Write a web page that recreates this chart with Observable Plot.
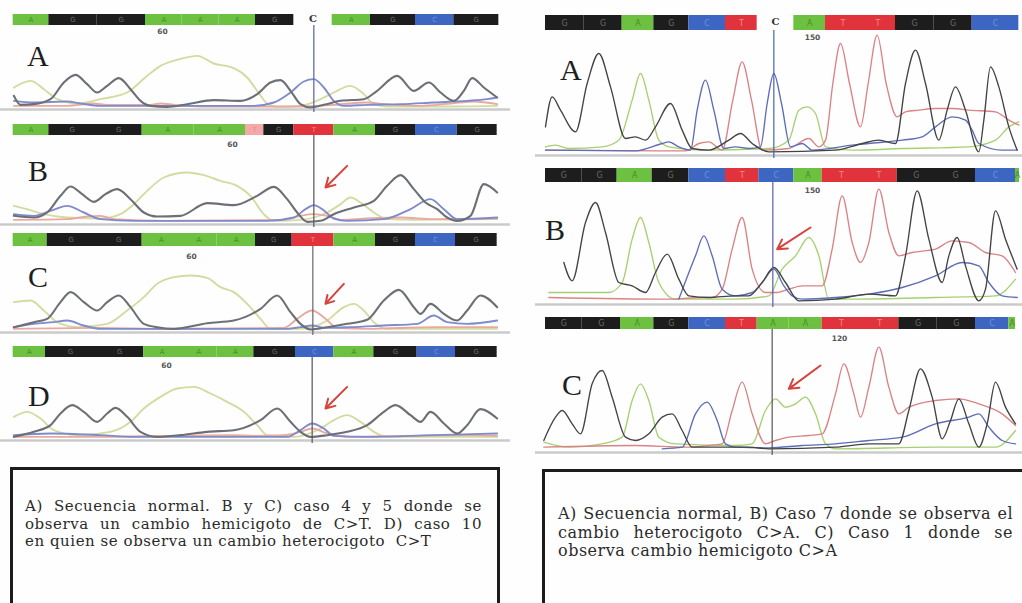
<!DOCTYPE html>
<html><head><meta charset="utf-8">
<script src="https://cdn.jsdelivr.net/npm/d3@7"></script>
<script src="https://cdn.jsdelivr.net/npm/@observablehq/plot@0.6"></script>
<style>
html,body{margin:0;padding:0;background:#fff;}
#root{position:relative;width:1022px;height:603px;overflow:hidden;background:#fefefe;}
.abs{position:absolute;}
.letter{position:absolute;font-family:"Liberation Serif",serif;font-size:30px;line-height:1;color:#1e1e1e;}
.box{position:absolute;border:3px solid #1c1c1c;box-sizing:border-box;}
.cap{position:absolute;font-family:"DejaVu Serif",serif;line-height:1;color:#2b2b2b;white-space:pre;}
.just{text-align:justify;text-align-last:justify;}
</style></head><body><div id="root"></div>
<script>
// ================= DATA =================
// Base calls and call boundaries (scan units) for every chromatogram
const leftA_calls = ["A","G","G","A","A","A","G","C","A","G","C","G"];
const leftA_edges = [38,145,290,435,545,655,765,880,995,1110,1245,1360,1495];
const leftB_calls = ["A","G","G","A","A","t","G","T","A","G","C","G"];
const leftB_edges = [38,145,285,425,580,735,790,880,1000,1125,1245,1370,1490];
const leftC_calls = ["A","G","G","A","A","A","G","T","A","G","C","G"];
const leftC_edges = [38,140,285,425,540,650,765,875,1000,1125,1245,1365,1490];
const leftD_calls = ["A","G","G","A","A","A","G","C","A","G","C","G"];
const leftD_edges = [38,135,285,430,540,650,760,885,1000,1120,1250,1365,1490];
const rightA_calls = ["G","G","A","G","C","T","C","A","T","T","G","G","C"];
const rightA_edges = [30,145,260,355,460,570,665,775,870,975,1080,1195,1310,1450];
const rightB_calls = ["G","G","A","G","C","T","C","A","T","T","G","G","C","A"];
const rightB_edges = [30,140,245,350,460,570,670,775,860,975,1085,1200,1320,1440,1452];
const rightC_calls = ["G","G","A","G","C","T","A","A","T","T","G","G","C","A"];
const rightC_edges = [30,140,255,355,460,570,665,760,860,975,1090,1205,1320,1420,1440];
// index of the highlighted (uncoloured) call in the reference panels
const leftA_selected = 7;
const rightA_selected = 6;

// Position numbers above the traces [scan, label]
const posLabels = {
  leftA: [486, "60"], leftB: [696, "60"], leftC: [573, "60"], leftD: [498, "60"],
  rightA: [831, "150"], rightB: [831, "150"], rightC: [912, "120"]
};
// Cursor (variant position) in scan units
const cursorScan = {leftA: 940, leftB: 940, leftC: 937, leftD: 935, rightA: 715, rightB: 712, rightC: 710};

// Traces: [scan, signal]
const leftA_G = [[40,35],[60,8],[100,10],[150,25],[190,75],[225,98],[260,70],[290,45],[320,65],[355,88],[390,55],[420,20],[450,5],[500,2],[560,10],[640,22],[720,20],[770,40],[810,75],[840,82],[870,50],[900,10],[930,0],[970,8],[1020,20],[1090,25],[1130,50],[1190,95],[1240,50],[1285,75],[1320,45],[1360,20],[1390,50],[1415,88],[1450,60],[1490,30]];
const leftA_A = [[40,60],[90,80],[130,55],[170,25],[230,12],[300,25],[380,45],[440,95],[480,125],[530,143],[590,155],[640,132],[700,118],[740,90],[770,50],[800,12],[830,2],[900,5],[960,25],[1000,45],[1050,65],[1090,40],[1120,10],[1160,3],[1300,3],[1490,5]];
const leftA_C = [[40,20],[100,15],[200,18],[240,12],[300,5],[760,5],[820,15],[870,45],[910,78],[940,85],[970,60],[1000,20],[1030,5],[1100,8],[1200,10],[1300,15],[1400,20],[1460,25],[1490,30]];
const leftA_T = [[40,5],[200,5],[280,12],[320,8],[450,8],[480,12],[520,8],[600,3],[900,3],[1000,8],[1100,15],[1150,10],[1250,5],[1350,12],[1420,18],[1490,10]];

const leftB_G = [[40,20],[100,15],[140,30],[180,80],[210,108],[245,85],[280,62],[315,85],[350,100],[390,70],[430,30],[470,18],[540,20],[620,58],[700,52],[770,80],[820,107],[860,70],[890,30],[920,2],[960,5],[1000,25],[1060,45],[1120,65],[1160,110],[1200,142],[1240,100],[1275,60],[1310,40],[1340,15],[1370,5],[1410,20],[1450,115],[1490,90]];
const leftB_A = [[40,50],[80,40],[130,25],[200,15],[300,12],[360,25],[400,55],[440,95],[490,135],[560,150],[610,142],[660,125],[710,110],[750,80],[790,25],[820,5],[900,8],[980,30],[1020,55],[1050,75],[1080,60],[1120,30],[1160,10],[1250,8],[1490,10]];
const leftB_C = [[40,25],[100,20],[150,35],[200,50],[250,30],[300,10],[400,5],[800,5],[880,15],[915,40],[940,52],[965,40],[1000,12],[1040,5],[1150,10],[1230,40],[1290,70],[1330,40],[1370,10],[1490,15]];
const leftB_T = [[40,8],[200,10],[260,18],[300,20],[340,10],[500,5],[850,8],[900,20],[940,25],[980,20],[1020,8],[1100,12],[1200,15],[1300,10],[1490,12]];

const leftC_G = [[40,10],[100,25],[140,35],[180,85],[210,115],[250,85],[290,60],[320,85],[355,105],[390,70],[430,20],[470,10],[520,5],[620,22],[700,30],[780,65],[830,105],[870,55],[900,20],[930,3],[980,10],[1040,20],[1100,32],[1150,90],[1195,122],[1240,70],[1260,50],[1290,80],[1330,50],[1370,30],[1400,60],[1440,105],[1490,70]];
const leftC_A = [[40,85],[90,90],[130,60],[170,25],[230,10],[320,20],[380,60],[430,100],[470,140],[520,160],[570,165],[620,158],[660,130],[700,115],[740,80],[780,35],[810,5],[900,5],[980,30],[1030,70],[1060,80],[1090,60],[1120,25],[1160,5],[1490,5]];
const leftC_C = [[40,10],[100,20],[160,25],[200,30],[250,15],[300,5],[860,5],[900,10],[935,15],[970,8],[1050,10],[1150,15],[1250,20],[1300,45],[1340,25],[1400,20],[1490,30]];
const leftC_T = [[40,5],[300,8],[500,5],[850,8],[890,35],[935,60],[975,35],[1010,8],[1100,5],[1300,10],[1490,10]];

const leftD_G = [[40,5],[100,20],[150,40],[180,75],[215,100],[250,80],[290,50],[320,75],[345,92],[380,65],[420,20],[470,5],[540,10],[620,20],[700,25],[780,55],[830,90],[870,50],[900,20],[930,5],[980,10],[1040,20],[1100,40],[1150,80],[1185,100],[1230,70],[1260,50],[1290,80],[1330,45],[1370,15],[1400,40],[1440,88],[1490,60]];
const leftD_A = [[40,65],[80,80],[120,60],[160,25],[230,10],[330,20],[390,50],[430,90],[480,125],[530,150],[580,155],[630,135],[680,110],[730,80],[770,40],[800,10],[880,5],[960,30],[1000,55],[1040,70],[1080,50],[1120,20],[1160,5],[1490,5]];
const leftD_C = [[40,10],[150,15],[300,10],[400,5],[860,5],[900,25],[935,45],[970,30],[1000,8],[1100,5],[1300,10],[1490,15]];
const leftD_T = [[40,5],[300,5],[500,8],[700,10],[760,8],[850,10],[900,20],[935,30],[980,15],[1050,5],[1200,8],[1400,10],[1490,8]];

const rightA_G = [[30,80],[50,170],[75,130],[120,65],[155,210],[190,300],[225,200],[270,45],[300,50],[330,40],[360,80],[405,150],[440,70],[470,15],[520,10],[580,40],[615,60],[650,30],[700,5],[900,10],[980,30],[1030,40],[1080,30],[1110,210],[1140,310],[1170,210],[1210,40],[1235,130],[1260,200],[1290,130],[1330,5],[1345,100],[1365,260],[1390,200],[1420,80],[1445,10]];
const rightA_C = [[30,10],[300,8],[380,30],[400,35],[430,20],[465,10],[485,130],[510,220],[535,130],[565,15],[600,20],[640,15],[675,20],[695,150],[715,240],[738,150],[765,20],[800,30],[830,10],[950,25],[1000,30],[1100,40],[1160,50],[1200,80],[1250,110],[1290,100],[1310,70],[1330,30],[1400,10],[1445,10]];
const rightA_T = [[30,10],[450,8],[490,30],[520,35],[560,10],[592,160],[620,275],[648,160],[680,10],[760,15],[820,45],[850,20],[870,40],[892,210],[915,330],[942,210],[975,80],[998,210],[1025,355],[1052,210],[1085,110],[1110,125],[1150,130],[1200,135],[1250,135],[1300,130],[1380,125],[1420,100],[1450,85]];
const rightA_A = [[30,20],[60,25],[100,15],[200,20],[250,40],[290,160],[315,240],[340,160],[370,40],[400,20],[500,10],[700,15],[760,40],[790,130],[815,140],[840,120],[870,20],[950,10],[1100,15],[1300,20],[1380,40],[1420,80],[1450,95]];

const rightB_G = [[85,120],[110,65],[150,240],[180,300],[210,210],[250,60],[290,50],[330,30],[360,90],[395,145],[430,70],[460,20],[520,15],[600,20],[640,20],[680,60],[715,105],[750,60],[790,5],[900,10],[1000,25],[1080,20],[1110,140],[1145,335],[1180,190],[1220,60],[1240,140],[1265,195],[1290,110],[1330,5],[1350,40],[1380,275],[1410,190],[1445,100]];
const rightB_C = [[430,10],[480,140],[505,200],[530,140],[560,40],[600,20],[650,30],[680,60],[715,100],[745,50],[770,20],[800,10],[900,15],[1000,25],[1100,45],[1200,80],[1280,120],[1330,110],[1360,60],[1400,20],[1445,15]];
const rightB_T = [[40,15],[400,10],[500,15],[530,15],[560,40],[590,160],[620,255],[650,100],[690,30],[720,30],[760,40],[800,50],[860,50],[890,160],[920,320],[950,180],[975,120],[1000,180],[1030,340],[1060,210],[1090,140],[1130,150],[1200,160],[1250,185],[1300,180],[1350,150],[1400,140],[1440,90]];
const rightB_A = [[40,30],[150,30],[220,30],[260,60],[290,190],[315,255],[340,180],[370,60],[420,10],[600,10],[700,20],[740,100],[780,140],[820,195],[850,140],[880,10],[950,10],[1200,15],[1380,20],[1440,70]];

const rightC_G = [[25,30],[60,100],[80,120],[110,80],[135,50],[170,200],[200,240],[230,160],[270,40],[300,30],[340,50],[380,100],[410,110],[440,60],[470,10],[560,10],[640,10],[700,5],[900,10],[1000,20],[1090,20],[1120,120],[1155,245],[1190,160],[1220,35],[1245,90],[1270,155],[1300,80],[1330,10],[1355,80],[1380,205],[1410,130],[1440,80]];
const rightC_C = [[380,5],[440,10],[480,110],[515,145],[545,90],[570,20],[600,10],[700,8],[800,15],[900,20],[1000,30],[1100,40],[1200,80],[1300,100],[1330,110],[1360,70],[1400,30],[1440,20]];
const rightC_T = [[25,10],[300,15],[450,10],[520,15],[560,20],[590,120],[620,205],[650,110],[690,20],[720,30],[760,40],[820,45],[860,50],[900,170],[925,260],[955,170],[975,100],[1000,190],[1030,310],[1060,190],[1090,110],[1120,130],[1200,150],[1270,155],[1330,140],[1400,110],[1440,75]];
const rightC_A = [[25,25],[100,10],[200,20],[260,40],[290,150],[315,200],[340,150],[370,40],[420,20],[600,15],[650,20],[690,120],[720,155],[750,130],[780,140],[810,160],[840,110],[870,20],[900,5],[1200,10],[1380,10],[1440,60]];

// Red arrows marking the variant [scanTail, signalTail, scanHead, signalHead]
const arrowsData = {
  leftB: [1040,170,975,105], leftC: [1030,140,975,80], leftD: [1040,155,975,90],
  rightB: [825,225,725,160], rightC: [855,255,760,185]
};

const panelLetters = {leftA:"A", leftB:"B", leftC:"C", leftD:"D", rightA:"A", rightB:"B", rightC:"C"};

const captionLeft = [
  "A) Secuencia normal. B y C) caso 4 y 5 donde se",
  "observa un cambio hemicigoto de C>T. D) caso 10",
  "en quien se observa un cambio heterocigoto  C>T"
];
const captionRight = [
  "A) Secuencia normal, B) Caso 7 donde se observa el",
  "cambio heterocigoto C>A. C) Caso 1 donde se",
  "observa cambio hemicigoto C>A"
];

// ================= STYLE / LAYOUT =================
const barFill = {A:"#6dc140", C:"#3d66c2", G:"#1d1d1d", T:"#e1333b"};
const barWeakFill = {A:"#b5e09a", C:"#a9bbe8", G:"#999", T:"#f4a9a9"};
const barText = {A:"#4c8a2e", C:"#7290d6", G:"#6a6a6a", T:"#ee8a8a"};
const leftTraceColor = {G:"#6c7076", A:"#d2dca0", C:"#7f8bcb", T:"#e8aaa0"};
const rightTraceColor = {G:"#434343", A:"#a6d070", C:"#5d6db6", T:"#da8386"};

const layout = {
  leftA: {left:0, width:510, barTop:14, barBottom:25, baseline:107, letterX:27, letterBase:66, labelDy:6, cursor:"#56629a"},
  leftB: {left:0, width:510, barTop:124, barBottom:135, baseline:222, letterX:28, letterBase:181, labelDy:9, cursor:"#555"},
  leftC: {left:0, width:510, barTop:233, barBottom:246, baseline:330, letterX:28, letterBase:287, labelDy:10, cursor:"#666"},
  leftD: {left:0, width:510, barTop:346, barBottom:357, baseline:438, letterX:28, letterBase:406, labelDy:8.5, cursor:"#555"},
  rightA: {left:535, width:487, barTop:15, barBottom:30, baseline:153, letterX:560, letterBase:80, labelDy:7.5, cursor:"#4862b0"},
  rightB: {left:535, width:487, barTop:168, barBottom:182, baseline:302, letterX:545, letterBase:240, labelDy:8, cursor:"#5a5cb0"},
  rightC: {left:535, width:487, barTop:317, barBottom:329, baseline:450, letterX:562, letterBase:395, labelDy:9.5, cursor:"#555"}
};

const sources = {
  leftA: {calls:leftA_calls, edges:leftA_edges, sel:leftA_selected, tr:{A:leftA_A,T:leftA_T,C:leftA_C,G:leftA_G}},
  leftB: {calls:leftB_calls, edges:leftB_edges, sel:-1, tr:{A:leftB_A,T:leftB_T,C:leftB_C,G:leftB_G}},
  leftC: {calls:leftC_calls, edges:leftC_edges, sel:-1, tr:{A:leftC_A,T:leftC_T,C:leftC_C,G:leftC_G}},
  leftD: {calls:leftD_calls, edges:leftD_edges, sel:-1, tr:{A:leftD_A,T:leftD_T,C:leftD_C,G:leftD_G}},
  rightA: {calls:rightA_calls, edges:rightA_edges, sel:rightA_selected, tr:{A:rightA_A,T:rightA_T,C:rightA_C,G:rightA_G}},
  rightB: {calls:rightB_calls, edges:rightB_edges, sel:-1, tr:{A:rightB_A,T:rightB_T,C:rightB_C,G:rightB_G}},
  rightC: {calls:rightC_calls, edges:rightC_edges, sel:-1, tr:{A:rightC_A,T:rightC_T,C:rightC_C,G:rightC_G}}
};

const root = document.getElementById("root");
function place(el, left, top) {
  const d = document.createElement("div");
  d.className = "abs"; d.style.left = left + "px"; d.style.top = top + "px";
  d.appendChild(el); root.appendChild(d); return d;
}

for (const key of Object.keys(layout)) {
  const L = layout[key], S = sources[key];
  const isLeft = key.startsWith("left");
  const W = L.width;
  const xs = {domain:[0, 3 * W], range:[0, W], axis:null};
  const calls = S.calls.map((b, i) => ({
    base: b.toUpperCase(), weak: b !== b.toUpperCase(), sel: i === S.sel,
    x1: S.edges[i], x2: S.edges[i + 1]
  }));
  const normal = calls.filter(d => !d.sel), selected = calls.filter(d => d.sel);
  const barH = L.barBottom - L.barTop;
  const bar = Plot.plot({
    width: W, height: barH, margin: 0, x: xs, y: {axis: null},
    color: {type: "identity"},
    style: {background: "transparent", overflow: "visible"},
    marks: [
      Plot.rect(normal, {x1: "x1", x2: "x2", fill: d => d.weak ? barWeakFill[d.base] : barFill[d.base]}),
      Plot.text(normal, {x: d => (d.x1 + d.x2) / 2, text: "base", frameAnchor: "middle",
        fill: d => barText[d.base], fontSize: isLeft ? 7 : 8, fontFamily: "DejaVu Sans"}),
      Plot.text(selected, {x: d => (d.x1 + d.x2) / 2, text: "base", frameAnchor: "middle",
        fill: "#333", fontSize: 10, fontWeight: "bold", fontFamily: "DejaVu Serif", dy: -1})
    ]
  });
  place(bar, L.left, L.barTop);

  const h = L.baseline - L.barBottom;
  const colors = isLeft ? leftTraceColor : rightTraceColor;
  const sw = isLeft ? 1.9 : 1.35;
  const marks = [
    Plot.ruleY([0], {stroke: "#cbcbcb", strokeWidth: 2.5, dy: 2})
  ];
  for (const ch of ["A", "T", "C", "G"]) {
    marks.push(Plot.line(S.tr[ch], {x: d => d[0], y: d => d[1], stroke: colors[ch],
      strokeWidth: ch === "G" && isLeft ? 2.1 : sw, curve: "monotone-x"}));
  }
  marks.push(Plot.ruleX([cursorScan[key]], {stroke: L.cursor, strokeWidth: 1.2}));
  if (arrowsData[key]) {
    const [x1, y1, x2, y2] = arrowsData[key];
    marks.push(Plot.arrow([{x1, y1, x2, y2}], {x1: "x1", y1: "y1", x2: "x2", y2: "y2",
      stroke: "#d8423c", strokeWidth: 2, headLength: 8}));
  }
  const [lx, lt] = posLabels[key];
  marks.push(Plot.text([{x: lx, t: lt}], {x: "x", text: "t", frameAnchor: "top", lineAnchor: "middle",
    dy: L.labelDy, fontSize: 7.5, fontWeight: "bold", fill: "#555", fontFamily: "DejaVu Sans"}));
  const tr = Plot.plot({
    width: W, height: h + 5, margin: 0, x: xs,
    y: {domain: [0, 3 * h], range: [h, 0], axis: null},
    color: {type: "identity"},
    style: {background: "transparent", overflow: "visible"},
    marks
  });
  place(tr, L.left, L.barBottom);

  const let_ = document.createElement("div");
  let_.className = "letter";
  let_.textContent = panelLetters[key];
  let_.style.left = L.letterX + "px";
  let_.style.top = (L.letterBase - 0.8375 * 30) + "px";
  root.appendChild(let_);
}

// caption boxes
function box(left, top, w, h) {
  const b = document.createElement("div");
  b.className = "box";
  Object.assign(b.style, {left: left + "px", top: top + "px", width: w + "px", height: h + "px"});
  root.appendChild(b);
}
box(10, 467, 490, 200);
box(542, 469, 520, 200);

function lines(arr, left, width, baselines, fs, ls) {
  arr.forEach((t, i) => {
    const d = document.createElement("div");
    const last = i === arr.length - 1;
    d.className = "cap" + (last ? "" : " just");
    d.textContent = t;
    Object.assign(d.style, {left: left + "px", top: (baselines[i] - 0.846 * fs) + "px",
      fontSize: fs + "px", letterSpacing: ls + "px"});
    if (!last) { d.style.width = width + "px"; d.style.whiteSpace = "normal"; }
    root.appendChild(d);
  });
}
lines(captionLeft, 25, 457, [512, 530, 547], 15, 0.55);
lines(captionRight, 558, 455, [520, 539, 557], 16, 0.5);
</script></body></html>
